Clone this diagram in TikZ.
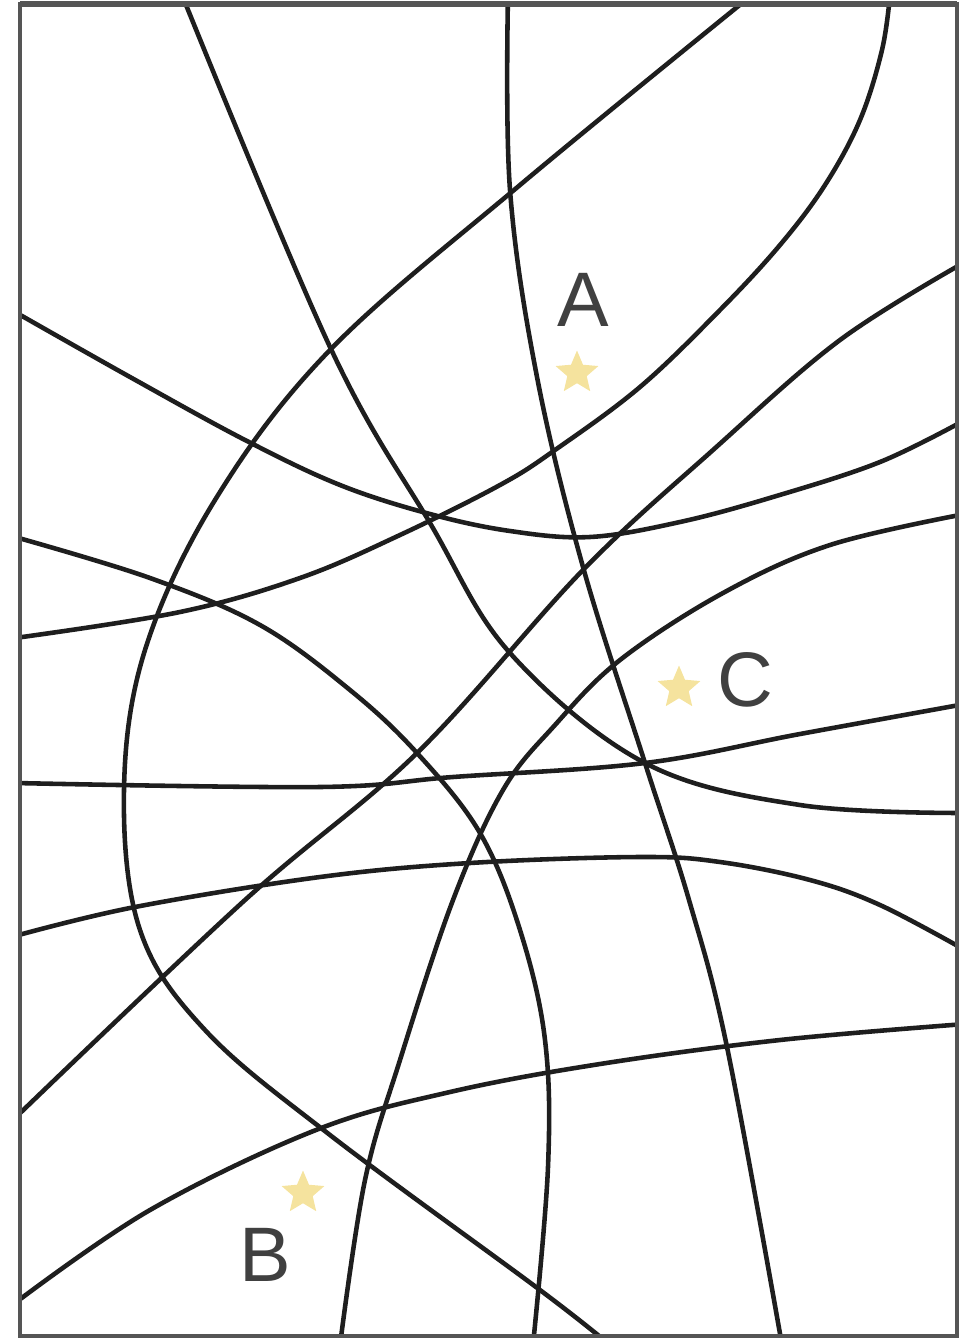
\documentclass[tikz,border=0pt]{standalone}
\usepackage{fontspec}
\newfontfamily\mapfont{Liberation Sans}
\usepackage{tikz}
\usetikzlibrary{shapes.geometric,calc}
\definecolor{mapInk}{HTML}{1E1E1E}
\definecolor{mapFrame}{HTML}{555555}
\definecolor{starYellow}{HTML}{F2DC86}
\tikzset{
  map/road/.style={draw=mapInk, line width=2.6pt, line join=round},
  map/frame/.style={draw=mapFrame, line width=1.8pt},
  map/star/.style={star, star points=5, star point ratio=2.2, fill=starYellow, draw=none, minimum size=9mm, inner sep=0pt, opacity=0.8},
  map/label/.style={font=\mapfont\fontsize{44}{44}\selectfont, text=mapInk!85, inner sep=0pt}
}

\begin{document}
\begin{tikzpicture}[x=0.02cm, y=-0.02cm]
\useasboundingbox (0,0) rectangle (961,1342);
\begin{scope}
\clip (20,4) rectangle (957,1336);
% roads
\draw[map/road] plot[smooth, tension=0.6] coordinates {(508,-5) (510,190) (537,377) (583,567) (645,763) (689,900) (727,1047) (782,1345)};
\draw[map/road] plot[smooth, tension=0.6] coordinates {(182,-5) (330,347) (430,523) (510,653) (645,763) (800,805) (965,813)};
\draw[map/road] plot[smooth, tension=0.6] coordinates {(15,783) (320,787) (453,777) (645,763) (800,734) (965,704)};
\draw[map/road] plot[smooth, tension=0.6] coordinates {(890,-5) (882,50) (860,120) (825,185) (780,245) (720,310) (640,387) (555,450) (500,485) (400,535) (300,578) (180,612) (15,638)};
\draw[map/road] plot[smooth, tension=0.6] coordinates {(752,-5) (520,185) (330,350) (215,500) (145,650) (124,790) (140,930) (205,1030) (330,1135) (540,1290) (610,1345)};
\draw[map/road] plot[smooth, tension=0.6] coordinates {(15,312) (130,377) (245,440) (340,485) (430,514) (510,531) (590,537) (680,522) (773,497) (880,462) (965,420)};
\draw[map/road] plot[smooth, tension=0.6] coordinates {(965,262) (840,340) (713,450) (583,570) (417,753) (245,900) (15,1118)};
\draw[map/road] plot[smooth, tension=0.6] coordinates {(965,514) (830,545) (723,593) (620,660) (555,725) (503,790) (453,900) (400,1060) (365,1180) (340,1345)};
\draw[map/road] plot[smooth, tension=0.6] coordinates {(15,537) (150,578) (260,625) (350,690) (417,753) (480,833) (520,930) (545,1040) (548,1167) (533,1345)};
\draw[map/road] plot[smooth, tension=0.6] coordinates {(15,936) (135,907) (320,877) (470,863) (640,857) (720,862) (810,880) (880,905) (965,950)};
\draw[map/road] plot[smooth, tension=0.6] coordinates {(15,1303) (150,1210) (316,1130) (450,1092) (600,1064) (780,1040) (965,1024)};
\end{scope}
\draw[map/frame] (20,4) rectangle (957,1336);
\draw[map/frame, line width=3.5pt] (20,4) -- (957,4);
% points
\node[map/star] (stara) at (577,373) {};
\node[map/star] (starc) at (679,688) {};
\node[map/star] (starb) at (303,1193) {};
\node[map/label] (a) at ($(stara)+(6,-73)$) {A};
\node[map/label] (c) at ($(starc)+(66,-8)$) {C};
\node[map/label] (b) at ($(starb)+(-38,62)$) {B};
\end{tikzpicture}
\end{document}
